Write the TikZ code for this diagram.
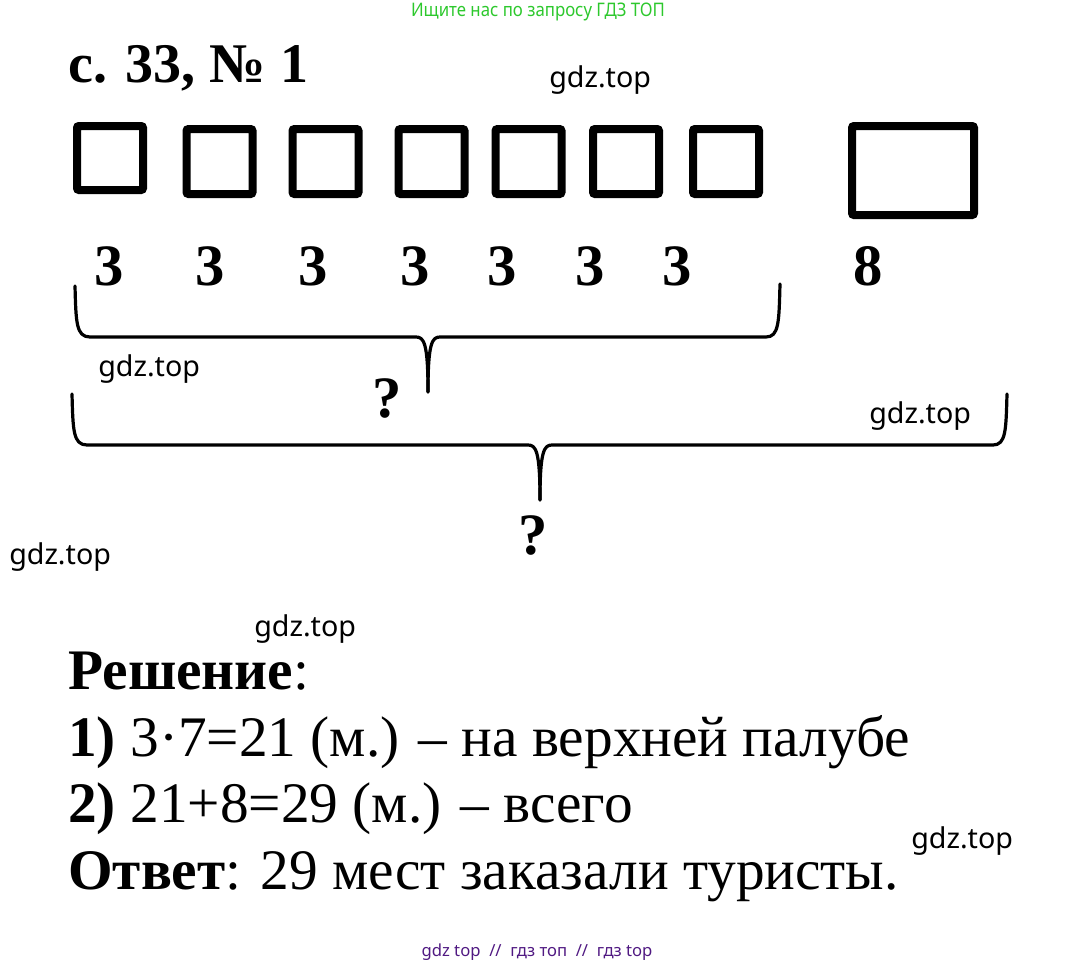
\documentclass[tikz,border=0pt]{standalone}
\usepackage{fontspec}
\setmainfont{Liberation Serif}
\newfontfamily\wmfont{Noto Sans}
\newfontfamily\condfont[FakeStretch=0.9]{Noto Sans}
\definecolor{wmgreen}{RGB}{45,200,45}
\definecolor{wmpurple}{RGB}{80,25,130}
\tikzset{
  seat/.style={draw,line width=6pt,rounded corners=1.5pt,inner sep=0pt},
  num/.style={anchor=base,font=\fontsize{44}{48}\selectfont\bfseries},
  wm/.style={anchor=base west,inner sep=0pt,font=\wmfont\fontsize{21.5}{23}\selectfont},
  line/.style={anchor=base west,inner sep=0pt,font=\fontsize{43}{48}\selectfont},
  brace/.style={line width=2.4pt,line cap=round,line join=round}
}
\begin{document}
\begin{tikzpicture}[x=0.75pt,y=-0.75pt]
  \useasboundingbox (0,0) rectangle (1076,967);
  % top and bottom notes
  \node[font=\condfont\fontsize{14}{16}\selectfont,text=wmgreen] (top) at (538,12) {Ищите нас по запросу ГДЗ ТОП};
  \node[font=\wmfont\fontsize{12.5}{14}\selectfont,text=wmpurple] (bottom) at (537,952) {gdz top \ // \ гдз топ \ // \ гдз top};
  % title
  \node[anchor=base west,inner sep=0pt,font=\fontsize{42}{46}\selectfont\bfseries] (title) at (68,82) {с. 33, № 1};
  % seats
  \draw
    (110,158) node[seat,minimum width=66pt*0.75,minimum height=64pt*0.75] (s1){}
    (219.5,161.5) node[seat,minimum width=66pt*0.75,minimum height=65pt*0.75] (s2){}
    (325.5,161.5) node[seat,minimum width=66pt*0.75,minimum height=65pt*0.75] (s3){}
    (431.5,161.5) node[seat,minimum width=66pt*0.75,minimum height=65pt*0.75] (s4){}
    (528.5,161.5) node[seat,minimum width=66pt*0.75,minimum height=65pt*0.75] (s5){}
    (626,161.5) node[seat,minimum width=66pt*0.75,minimum height=65pt*0.75] (s6){}
    (726,161.5) node[seat,minimum width=66pt*0.75,minimum height=65pt*0.75] (s7){}
    (913,170.5) node[seat,minimum width=122pt*0.75,minimum height=89pt*0.75] (s8){};
  % numbers
  \draw
    (109,285) node[num] (n1){3}
    (210,285) node[num] (n2){3}
    (313,285) node[num] (n3){3}
    (415,285) node[num] (n4){3}
    (502,285) node[num] (n5){3}
    (590,285) node[num] (n6){3}
    (677,285) node[num] (n7){3}
    (868,285) node[num] (n8){8};
  % braces
  \begin{scope}[brace]
    \draw (75,286) .. controls (76,322) and (76,337) .. (90,337) -- (416,337)
      .. controls (424,337) and (428,343) .. (428,392);
    \draw (780,284) .. controls (779,322) and (779,337) .. (766,337) -- (440,337)
      .. controls (432,337) and (428,343) .. (428,392);
    \draw (72,394) .. controls (73,430) and (73,445) .. (87,445) -- (528,445)
      .. controls (536,445) and (540,451) .. (540,500);
    \draw (1007,394) .. controls (1006,430) and (1006,445) .. (993,445) -- (552,445)
      .. controls (544,445) and (540,451) .. (540,500);
  \end{scope}
  \node[num] (q1) at (387,417) {?};
  \node[num] (q2) at (533,554) {?};
  % watermarks
  \node[wm] (w1) at (549,87) {gdz.top};
  \node[wm] (w2) at (98,376) {gdz.top};
  \node[wm] (w3) at (869,423) {gdz.top};
  \node[wm] (w4) at (9,564) {gdz.top};
  \node[wm] (w5) at (254,636) {gdz.top};
  \node[wm] (w6) at (911,848) {gdz.top};
  % solution
  \node[line] (l0) at (68,689) {\textbf{Решение}:};
  \node[line] (l1) at (68,756) {\textbf{1)} 3·7=21 (м.) – на верхней палубе};
  \node[line] (l2) at (68,822) {\textbf{2)} 21+8=29 (м.) – всего};
  \node[line] (l3) at (68,889) {\textbf{Ответ}: 29 мест заказали туристы.};
\end{tikzpicture}
\end{document}
